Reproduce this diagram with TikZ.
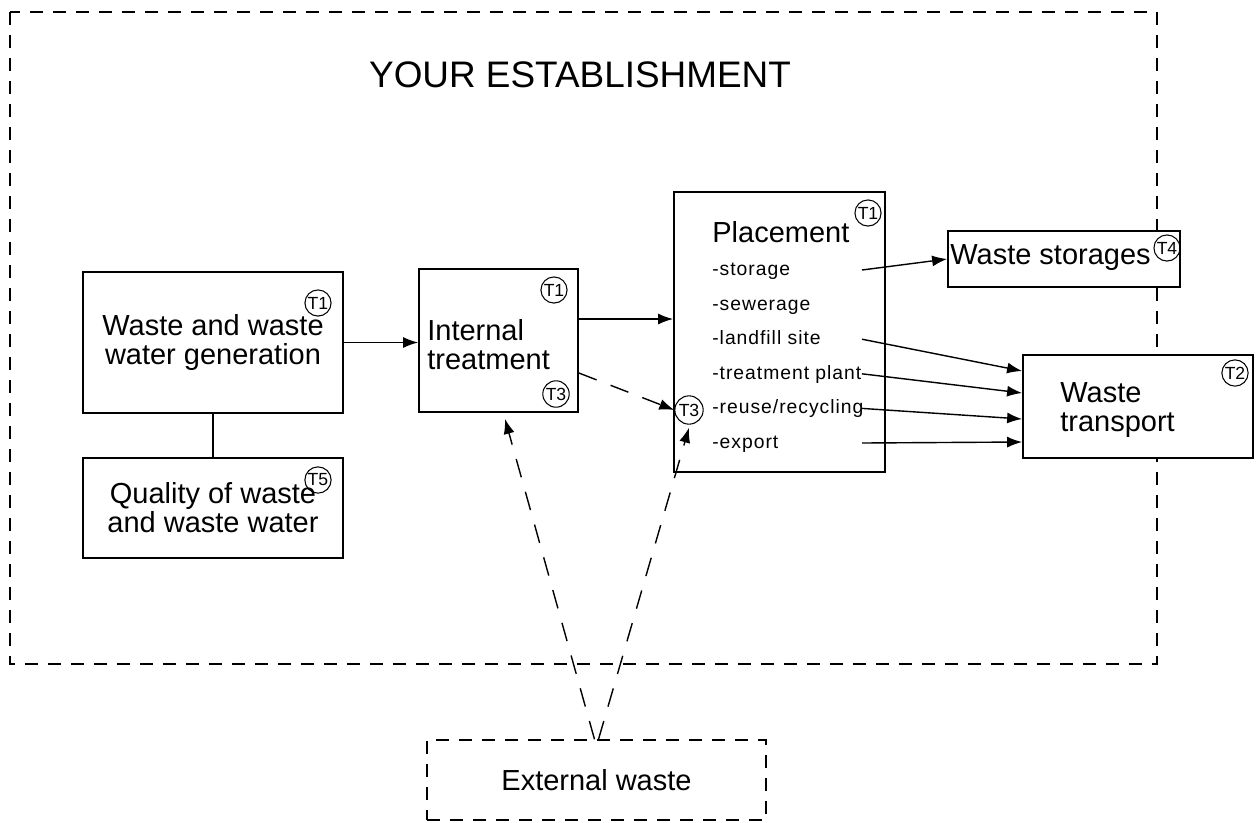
\documentclass[tikz,border=0pt]{standalone}
\usepackage{fontspec}
\setmainfont{Liberation Sans}
\newfontfamily\itemfont[LetterSpace=5]{Liberation Sans}
\usetikzlibrary{arrows.meta}

\begin{document}
\begin{tikzpicture}[font=\fontsize{16.5}{16.5}\selectfont,
    box/.style ={draw, fill=white, line width=1pt},
    txt/.style ={align=left, inner sep=0pt},
    tag/.style ={draw, circle, line width=0.6pt, inner sep=0.5pt, font=\fontsize{10}{10}\selectfont},
    item/.style={anchor=west, inner sep=0pt, text height=0.3cm, text depth=0.08cm, font=\itemfont\fontsize{11}{12}\selectfont},
    arr/.style ={-{Latex[length=0.3cm,width=0.22cm]}, line width=0.8pt},
    dsh/.style ={dash pattern=on 0.38cm off 0.3cm, line width=0.8pt},
    brd/.style ={draw, dash pattern=on 0.26cm off 0.2cm, line width=0.8pt},
  ]
  \useasboundingbox (0,0) rectangle (25.14,-16.44);

  % establishment border
  \draw[brd] (0.2,-0.24) rectangle (23.14,-13.28);
  \node[font=\fontsize{21}{25}\selectfont] (title) at (11.6,-1.5) {YOUR ESTABLISHMENT};

  % generation + quality
  \node[box, minimum width=5.2cm, minimum height=2.82cm, align=center] (wwg) at (4.26,-6.85)
    {Waste and waste\\ water generation};
  \node[tag] (t1a) at (6.36,-6.06) {T1};
  \node[box, minimum width=5.2cm, minimum height=2.0cm, align=center] (qual) at (4.26,-10.16)
    {Quality of waste\\ and waste water};
  \node[tag] (t5) at (6.36,-9.6) {T5};
  \draw[line width=0.8pt] (wwg.south) -- (qual.north);

  % internal treatment
  \node[box, minimum width=3.18cm, minimum height=2.86cm] (it) at (9.97,-6.81) {};
  \node[txt, anchor=west] (itx) at (8.54,-6.9) {Internal\\ treatment};
  \node[tag] (t1b) at (11.08,-5.8) {T1};
  \node[tag] (t3a) at (11.12,-7.88) {T3};

  % placement
  \node[box, minimum width=4.22cm, minimum height=5.6cm] (pl) at (15.59,-6.64) {};
  \node[txt, anchor=west] (plx) at (14.24,-4.64) {Placement};
  \node[tag] (t1c) at (17.36,-4.26) {T1};
  \foreach \t [count=\i] in {storage,sewerage,landfill site,treatment plant,reuse/recycling,export}
    \node[item] (p\i) at (14.24,{-5.4-(\i-1)*0.692}) {-\t};
  \node[tag, inner sep=0.9pt] (t3b) at (13.78,-8.2) {T3};
  \coordinate (out) at (17.24,0);

  % storages and transport
  \node[box, minimum width=4.64cm, minimum height=1.12cm] (st) at (21.28,-5.18) {};
  \node[txt, anchor=west] (stx) at (19.0,-5.16) {Waste storages};
  \node[tag] (t4) at (23.34,-4.96) {T4};
  \node[box, minimum width=4.6cm, minimum height=2.06cm] (tr) at (22.76,-8.13) {};
  \node[txt, anchor=west] (trx) at (21.2,-8.2) {Waste\\ transport};
  \node[tag] (t2) at (24.7,-7.46) {T2};

  % external waste
  \node[brd, minimum width=6.78cm, minimum height=1.6cm] (ext) at (11.93,-15.6) {External waste};

  % flows
  \draw[arr] (wwg.east) -- (wwg.east -| it.west);
  \draw[arr] ([yshift=0.43cm]it.east) -- ([yshift=0.43cm]it.east -| pl.west);
  \draw[arr, dsh] ([yshift=-0.65cm]it.east) -- (t3b.west);
  \draw[arr, dsh] ([xshift=-0.04cm]ext.north) -- ([xshift=0.13cm,yshift=-0.12cm]it.south);
  \draw[arr, dsh] ([xshift=0.04cm]ext.north) -- ([yshift=-0.06cm]t3b.south);
  \draw[arr] (p1.west -| out) -- (st.west);
  \foreach \i/\dy in {3/0.71,4/0.27,5/-0.25,6/-0.71}
    \draw[arr] (p\i.west -| out) -- ([yshift=\dy cm]tr.west);
\end{tikzpicture}
\end{document}
